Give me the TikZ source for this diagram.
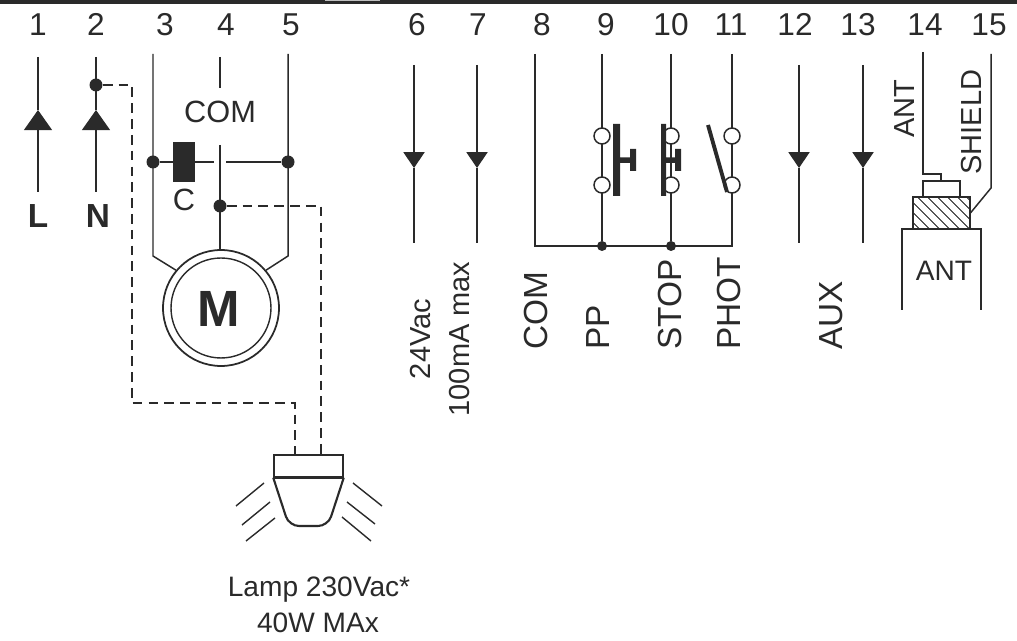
\documentclass[tikz,border=0pt]{standalone}
\usepackage{fontspec}
\setmainfont{Liberation Sans}
\usetikzlibrary{arrows.meta,patterns.meta}
\definecolor{ink}{HTML}{2A2A2A}
\tikzset{
  wire/.style={draw=ink,line width=.85pt},
  dashwire/.style={draw=ink,line width=.85pt,dash pattern=on 5.5pt off 3.5pt},
  feed/.style={wire,-{Triangle[length=11.5pt,width=16pt,color=ink]}},
  infeed/.style={wire,-{Triangle[length=9pt,width=12pt,color=ink]}},
  joint/.style={circle,fill=ink,inner sep=0pt,minimum size=.26cm},
  smalljoint/.style={circle,fill=ink,inner sep=0pt,minimum size=.2cm},
  contact/.style={circle,draw=ink,fill=white,line width=.85pt,inner sep=0pt,minimum size=.32cm},
  txt/.style={text=ink,font=\fontsize{16}{18}\selectfont,inner sep=0pt},
  numtxt/.style={txt,font=\fontsize{18}{20}\selectfont,anchor=base},
  vtxt/.style={txt,font=\fontsize{16.5}{18}\selectfont,rotate=90},
  bigvtxt/.style={txt,font=\fontsize{19}{21}\selectfont,rotate=90,anchor=west},
  beam/.style={draw=ink,line width=.8pt}
}
\begin{document}
\begin{tikzpicture}[x=0.02cm,y=-0.02cm]
  \useasboundingbox (0,0) rectangle (1017,641);
  \fill[ink] (0,0) rectangle (1017,4.5);
  \fill[gray!50] (325,0) rectangle (380,1.2);
  % terminal numbers
  \node[numtxt] (n1) at (38,36) {1};
  \node[numtxt] (n2) at (96,36) {2};
  \node[numtxt] (n3) at (165,36) {3};
  \node[numtxt] (n4) at (226,36) {4};
  \node[numtxt] (n5) at (291,36) {5};
  \node[numtxt] (n6) at (417,36) {6};
  \node[numtxt] (n7) at (478,36) {7};
  \node[numtxt] (n8) at (542,36) {8};
  \node[numtxt] (n9) at (606,36) {9};
  \node[numtxt] (n10) at (671,36) {10};
  \node[numtxt] (n11) at (731,36) {11};
  \node[numtxt] (n12) at (795,36) {12};
  \node[numtxt] (n13) at (858,36) {13};
  \node[numtxt] (n14) at (925,36) {14};
  \node[numtxt] (n15) at (989,36) {15};
  % line and neutral
  \coordinate (l1) at (38,57);
  \coordinate (l2) at (38,110);
  \coordinate (l3) at (38,192);
  \coordinate (m1) at (96,57);
  \coordinate (m2) at (96,110);
  \coordinate (m3) at (96,192);
  \node[joint] (mj) at (96,85) {};
  \draw[wire] (l1) to (l2) (m1) to (m2);
  \draw[feed] (l3) to (l2);
  \draw[feed] (m3) to (m2);
  \node[txt,font=\fontsize{19}{21}\selectfont\bfseries] (ltxt) at (38,216) {L};
  \node[txt,font=\fontsize{19}{21}\selectfont\bfseries] (ntxt) at (98,216) {N};
  % motor
  \node[circle,draw=ink,line width=1pt,minimum size=2.32cm,inner sep=0pt] (motor) at (221,308) {};
  \node[circle,draw=ink,line width=.8pt,minimum size=2cm,inner sep=0pt] (motorin) at (221,308) {};
  \node[txt,font=\fontsize{29}{31}\selectfont\bfseries] (mtxt) at (219,309) {M};
  \coordinate (c3) at (153,54);
  \coordinate (c3b) at (153,256);
  \coordinate (c5) at (288,54);
  \coordinate (c5b) at (288,256);
  \coordinate (c4) at (220,57);
  \coordinate (c4b) at (220,88);
  \coordinate (c4c) at (220,145);
  \coordinate (c4d) at (220,250);
  \node[joint] (j3) at (153,162) {};
  \node[joint] (j5) at (288,162) {};
  \node[joint] (j4) at (220,206) {};
  \coordinate (gapl) at (214,162);
  \coordinate (gapr) at (226,162);
  \draw[wire] (c3) to (c3b) to (motor.140);
  \draw[wire] (c5) to (c5b) to (motor.40);
  \draw[wire] (c4) to (c4b) (c4c) to (c4d);
  \draw[wire] (j3) to (gapl) (gapr) to (j5);
  \node[fill=ink,minimum width=.44cm,minimum height=.8cm,inner sep=0pt] (cap) at (184,162) {};
  \node[txt,font=\fontsize{17.5}{19}\selectfont] (comtxt) at (220,112) {COM};
  \node[txt,font=\fontsize{17.5}{19}\selectfont] (ctxt) at (184,200) {C};
  % lamp
  \node[draw=ink,line width=.85pt,minimum width=1.38cm,minimum height=.44cm,inner sep=0pt] (lamp) at (308.5,466) {};
  \coordinate (lampa) at (295,403);
  \coordinate (lampb) at (321,206);
  \coordinate (relay) at (132,85);
  \draw[dashwire] (mj) to (relay) to (132,403) to (lampa) to (lampa|-lamp.north);
  \draw[dashwire] (j4) to (lampb) to (lampb|-lamp.north);
  \draw[ink,line width=1.6pt] (lamp.south west) to (lamp.south east);
  \draw[ink,line width=1.2pt,rounded corners=.2cm] (lamp.south west) -- (289,526) -- (328,526) -- (lamp.south east);
  \draw[beam] (264,483) to (236,506);
  \draw[beam] (270,502) to (242,525);
  \draw[beam] (275,518) to (246,541);
  \draw[beam] (353,483) to (382,506);
  \draw[beam] (347,502) to (375,524);
  \draw[beam] (342,517) to (371,541);
  \node[txt] (lamptxt) at (319,590) {Lamp 230Vac*};
  \node[txt] (wtxt) at (318,623) {40W MAx};
  % low voltage outputs
  \coordinate (t6) at (414,65);
  \coordinate (t6a) at (414,168);
  \coordinate (t6b) at (414,243);
  \coordinate (t7) at (477,65);
  \coordinate (t7a) at (477,168);
  \coordinate (t7b) at (477,243);
  \draw[infeed] (t6) to (t6a);
  \draw[infeed] (t7) to (t7a);
  \draw[wire] (t6a) to (t6b) (t7a) to (t7b);
  \node[vtxt] (vtxt) at (421,339) {24Vac};
  \node[vtxt] (matxt) at (460,339) {100mA max};
  % inputs
  \coordinate (t8) at (535,54);
  \coordinate (t8b) at (535,246);
  \coordinate (t9) at (602,54);
  \coordinate (t10) at (671,54);
  \coordinate (t11) at (732,54);
  \coordinate (t11b) at (732,246);
  \node[smalljoint] (j9) at (602,246) {};
  \node[smalljoint] (j10) at (671,246) {};
  \draw[wire] (t8) to (t8b) to (t11b) to (t11);
  \draw[wire] (t9) to (j9);
  \draw[wire] (t10) to (j10);
  \node[contact] (a9) at (602,136) {};
  \node[contact] (b9) at (602,185) {};
  \node[contact] (a10) at (671,136) {};
  \node[contact] (b10) at (671,185) {};
  \node[contact] (a11) at (732,136) {};
  \node[contact] (b11) at (732,185) {};
  \fill[ink] (613,124) rectangle (620,196) (620,157.5) rectangle (631,163) (630,149) rectangle (636,171);
  \fill[ink] (661,124) rectangle (666,196) (666,157.5) rectangle (676,163) (675,149) rectangle (681,171);
  \draw[ink,line width=2.2pt] (708,125) to (727,192);
  \node[bigvtxt] (comin) at (536,350) {COM};
  \node[bigvtxt] (pptxt) at (598,350) {PP};
  \node[bigvtxt] (stoptxt) at (670,350) {STOP};
  \node[bigvtxt] (phottxt) at (729,350) {PHOT};
  % aux
  \coordinate (t12) at (799,65);
  \coordinate (t12a) at (799,168);
  \coordinate (t12b) at (799,243);
  \coordinate (t13) at (863,65);
  \coordinate (t13a) at (863,168);
  \coordinate (t13b) at (863,243);
  \draw[infeed] (t12) to (t12a);
  \draw[infeed] (t13) to (t13a);
  \draw[wire] (t12a) to (t12b) (t13a) to (t13b);
  \node[bigvtxt] (auxtxt) at (831,350) {AUX};
  % antenna
  \node[draw=ink,line width=.85pt,minimum width=.74cm,minimum height=.32cm,inner sep=0pt] (cable) at (941.5,189) {};
  \node[draw=ink,line width=.85pt,pattern={Lines[angle=-45,distance=4pt,line width=.5pt]},minimum width=1.14cm,minimum height=.64cm,inner sep=0pt] (shield) at (941.5,213) {};
  \coordinate (boxtl) at (902,310);
  \coordinate (boxt) at (902,229);
  \coordinate (boxtr) at (981,229);
  \coordinate (boxr) at (981,310);
  \draw[wire] (boxtl) to (boxt) to (boxtr) to (boxr);
  \coordinate (t14) at (923,52);
  \coordinate (t14a) at (923,174);
  \coordinate (t14b) at (941,174);
  \coordinate (t15) at (991,54);
  \coordinate (t15a) at (991,188);
  \draw[wire] (t14) to (t14a) to (t14b) to (t14b|-cable.north);
  \draw[wire] (t15) to (t15a) to (shield.east);
  \node[txt] (anttxt) at (944,271) {ANT};
  \node[vtxt] (antv) at (905,109) {ANT};
  \node[vtxt] (shieldtxt) at (972,122) {SHIELD};
\end{tikzpicture}
\end{document}
